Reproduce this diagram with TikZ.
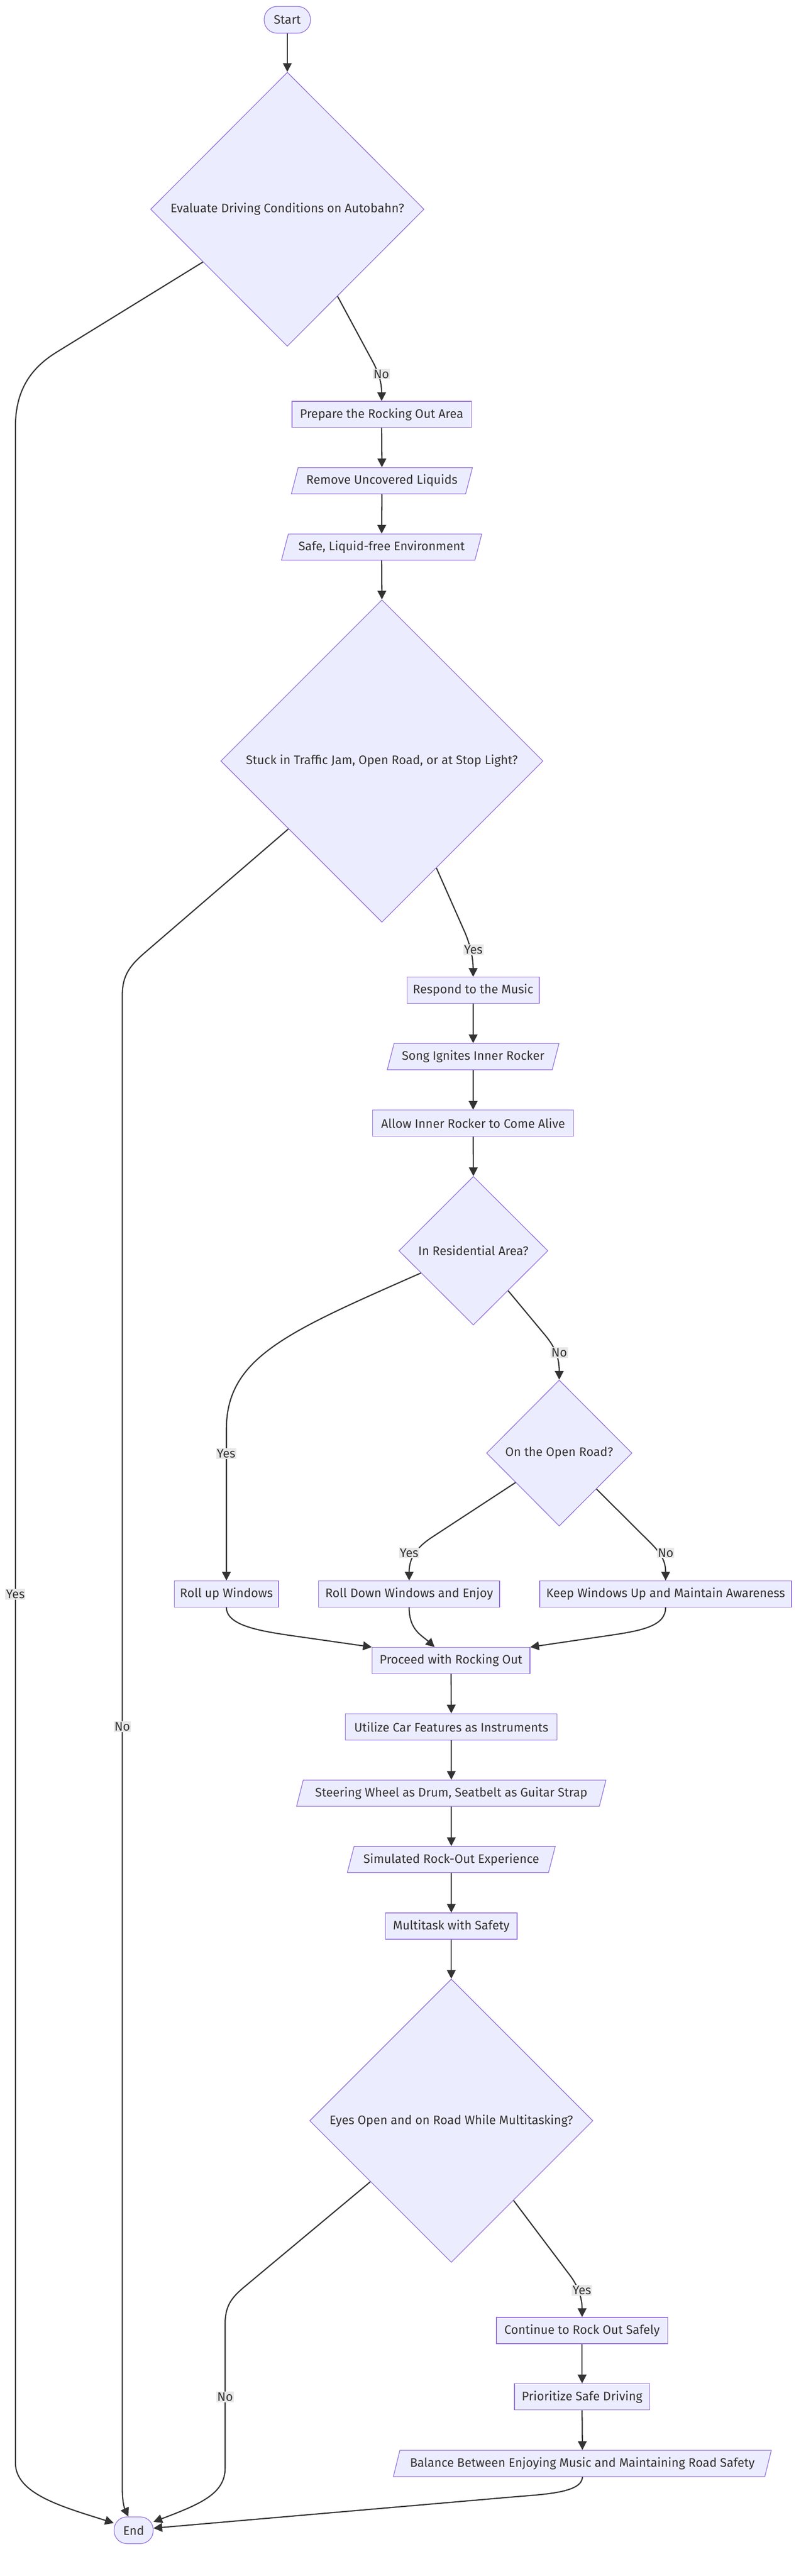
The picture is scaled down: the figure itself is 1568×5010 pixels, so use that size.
\documentclass[tikz,border=0pt]{standalone}
\usepackage{fontspec}
\setmainfont{Fira Sans}
\usetikzlibrary{shapes.geometric,arrows.meta,calc}
\definecolor{nodefill}{HTML}{ECECFF}
\definecolor{nodeline}{HTML}{9370DB}
\definecolor{edgeline}{HTML}{333333}
\definecolor{lblfill}{HTML}{E8E8E8}
\begin{document}
\begin{tikzpicture}[x=1pt,y=-1pt,
  every node/.style={font=\fontsize{24}{28}\selectfont, text=edgeline},
  box/.style={draw=nodeline, fill=nodefill, line width=1.3pt, rectangle, minimum height=51pt, inner sep=0pt},
  para/.style={draw=nodeline, fill=nodefill, line width=1.3pt, trapezium, trapezium left angle=63.4, trapezium right angle=116.6, trapezium stretches=true, minimum height=51pt, inner sep=0pt},
  dia/.style={draw=nodeline, fill=nodefill, line width=1.3pt, diamond, inner sep=0pt},
  term/.style={draw=nodeline, fill=nodefill, line width=1.3pt, rectangle, rounded corners=25pt, minimum height=52pt, inner sep=0pt},
  conn/.style={draw=edgeline, line width=2.3pt, -{Triangle[length=17pt,width=17pt]}},
  lbl/.style={fill=lblfill, inner xsep=1.5pt, inner ysep=2pt}
]
\fill[white] (0,0) rectangle (1568,5010);
\useasboundingbox (0,0) rectangle (1568,5010);

% nodes
\node[term, minimum width=90pt] (Start) at (559,38.5) {Start};
\node[dia, minimum width=532pt, minimum height=533pt, label=center:{Evaluate Driving Conditions on Autobahn?}] (D1) at (559,407) {};
\node[box, minimum width=349pt] (Prepare) at (742.5,806) {Prepare the Rocking Out Area};
\node[para, minimum width=354pt] (Remove) at (743,935) {Remove Uncovered Liquids};
\node[para, minimum width=391pt] (Safe) at (742.5,1064) {Safe, Liquid-free Environment};
\node[dia, minimum width=627pt, minimum height=627pt, label=center:{Stuck in Traffic Jam, Open Road, or at Stop Light?}] (D2) at (743,1480) {};
\node[box, minimum width=257pt] (Respond) at (920.5,1926) {Respond to the Music};
\node[para, minimum width=335pt] (Song) at (920.5,2055) {Song Ignites Inner Rocker};
\node[box, minimum width=391pt] (Allow) at (920.5,2184.5) {Allow Inner Rocker to Come Alive};
\node[dia, minimum width=290pt, minimum height=289pt, label=center:{In Residential Area?}] (D3) at (921,2432.5) {};
\node[dia, minimum width=283pt, minimum height=284pt, label=center:{On the Open Road?}] (D4) at (1088,2826) {};
\node[box, minimum width=203pt] (RollUp) at (440.5,3100) {Roll up Windows};
\node[box, minimum width=352pt] (RollDown) at (796,3100) {Roll Down Windows and Enjoy};
\node[box, minimum width=490pt] (Keep) at (1295,3100) {Keep Windows Up and Maintain Awareness};
\node[box, minimum width=307pt] (Proceed) at (877.5,3229.5) {Proceed with Rocking Out};
\node[box, minimum width=412pt] (Utilize) at (878,3358.5) {Utilize Car Features as Instruments};
\node[para, minimum width=604pt] (Steering) at (878,3487.5) {Steering Wheel as Drum, Seatbelt as Guitar Strap};
\node[para, minimum width=405pt] (Simulated) at (878,3616.5) {Simulated Rock-Out Experience};
\node[box, minimum width=256pt] (Multitask) at (878,3746) {Multitask with Safety};
\node[dia, minimum width=551pt, minimum height=551pt, label=center:{Eyes Open and on Road While Multitasking?}] (D5) at (878,4124.5) {};
\node[box, minimum width=333pt] (Continue) at (1132.5,4532.5) {Continue to Rock Out Safely};
\node[box, minimum width=263pt] (Prioritize) at (1132.5,4661.5) {Prioritize Safe Driving};
\node[para, minimum width=738pt] (Balance) at (1133,4791) {Balance Between Enjoying Music and Maintaining Road Safety};
\node[term, minimum width=76pt] (End) at (260,4921) {End};

% straight connectors
\draw[conn] (Start.south) -- (D1.north);
\draw[conn] (Prepare.south) -- (Remove.north);
\draw[conn] (Remove.south) -- (Safe.north);
\draw[conn] (Safe.south) -- (D2.north);
\draw[conn] (Respond.south) -- (Song.north);
\draw[conn] (Song.south) -- (Allow.north);
\draw[conn] (Allow.south) -- (D3.north);
\draw[conn] (Proceed.south) -- (Utilize.north);
\draw[conn] (Utilize.south) -- (Steering.north);
\draw[conn] (Steering.south) -- (Simulated.north);
\draw[conn] (Simulated.south) -- (Multitask.north);
\draw[conn] (Multitask.south) -- (D5.north);
\draw[conn] (Continue.south) -- (Prioritize.north);
\draw[conn] (Prioritize.south) -- (Balance.north);

% decision connectors
\draw[conn] (D1.-60.5) -- (725,703) .. controls (737,725) and (742.5,745) .. (Prepare.north);
\draw[conn] (D1.212) -- (110,685) .. controls (59,716.5) and (30,760) .. (30,830) -- (30,4790) .. controls (30,4850) and (120,4875) .. (End.160);
\draw[conn] (D2.-63.7) -- (903,1810) .. controls (913,1832) and (920.5,1860) .. (Respond.north);
\draw[conn] (D2.216.5) -- (285,1850) .. controls (254.6,1876) and (238,1895) .. (238,1935) -- (238,4840) .. controls (238,4870) and (243,4880) .. (End.111);
\draw[conn] (D3.203.4) .. controls (560,2590) and (440,2640) .. (440.5,2780) -- (RollUp.north);
\draw[conn] (D3.-49.9) -- (1060,2596) .. controls (1080,2620) and (1088,2640) .. (D4.north);
\draw[conn] (D4.214.8) -- (840,2990) .. controls (810,3010) and (796,3030) .. (RollDown.north);
\draw[conn] (D4.-44.2) -- (1265,3000) .. controls (1285,3020) and (1295,3035) .. (Keep.north);
\draw[conn] (RollUp.south) .. controls (440.5,3160) and (500,3171) .. (560,3180) -- (Proceed.north west);
\draw[conn] (RollDown.south) .. controls (796,3170) and (820,3180) .. ($(Proceed.north)+(-32,0)$);
\draw[conn] (Keep.south) .. controls (1295,3162) and (1250,3171) .. (1190,3180) -- (Proceed.north east);
\draw[conn] (D5.-52.5) -- (1108,4424) .. controls (1125,4446) and (1132.5,4470) .. (Continue.north);
\draw[conn] (D5.217.3) -- (475,4448) .. controls (450,4469) and (438,4485) .. (438,4520) -- (438,4800) .. controls (438,4850) and (390,4870) .. (End.23);
\draw[conn] (Balance.south) .. controls (1133,4848) and (1060,4851) .. (1000,4856) -- (End.6);

% edge labels
\node[lbl] (lD1no) at (742,727.5) {No};
\node[lbl] (lD1yes) at (30,3100.5) {Yes};
\node[lbl] (lD2yes) at (921,1847) {Yes};
\node[lbl] (lD2no) at (238,3358) {No};
\node[lbl] (lD3yes) at (440,2827) {Yes};
\node[lbl] (lD3no) at (1088,2631) {No};
\node[lbl] (lD4yes) at (796,3020) {Yes};
\node[lbl] (lD4no) at (1295,3020) {No};
\node[lbl] (lD5yes) at (1132,4454.5) {Yes};
\node[lbl] (lD5no) at (438,4661.6) {No};
\end{tikzpicture}
\end{document}
